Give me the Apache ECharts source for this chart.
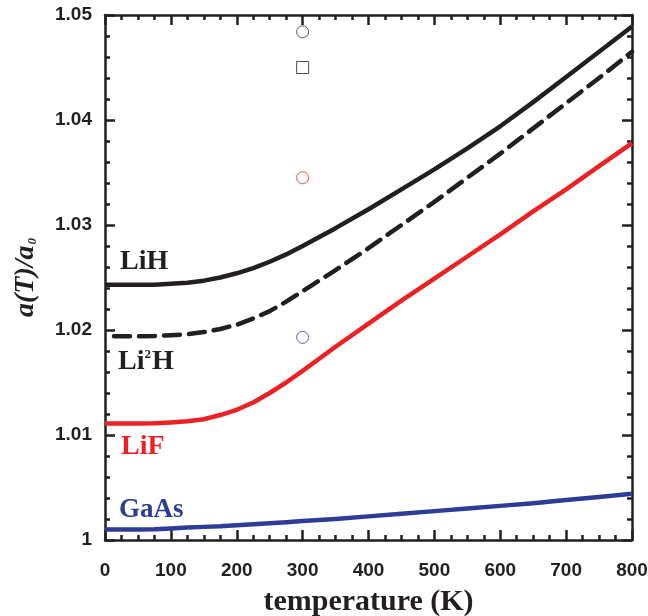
<!DOCTYPE html>
<html>
<head>
<meta charset="utf-8">
<script src="https://cdn.jsdelivr.net/npm/echarts@6/dist/echarts.min.js"></script>
<style>html,body{margin:0;padding:0;background:#fff;}#c{width:648px;height:616px;}</style>
</head>
<body>
<div id="c"></div>
<script>
// ---- data ----
const temps = [0, 25, 50, 75, 100, 125, 150, 175, 200, 225, 250, 275, 300, 350, 400, 450, 500, 550, 600, 650, 700, 750, 800];
const lih   = [1.0243, 1.0243, 1.0243, 1.02432, 1.0244, 1.0245, 1.0247, 1.0250, 1.0254, 1.0259, 1.0265, 1.0272, 1.0280, 1.0297, 1.0315, 1.0334, 1.0353, 1.0373, 1.0394, 1.0417, 1.0441, 1.0465, 1.0489];
const li2h  = [1.0194, 1.0194, 1.0194, 1.01943, 1.0195, 1.0196, 1.0198, 1.0201, 1.0205, 1.0211, 1.0218, 1.0227, 1.0237, 1.0257, 1.0278, 1.0300, 1.0322, 1.0345, 1.0368, 1.0392, 1.0416, 1.0440, 1.0465];
const lif   = [1.0111, 1.0111, 1.0111, 1.01113, 1.0112, 1.0113, 1.0115, 1.0119, 1.0124, 1.0131, 1.0140, 1.0150, 1.0161, 1.0184, 1.0206, 1.0228, 1.0249, 1.0270, 1.0291, 1.0313, 1.0334, 1.0356, 1.0378];
const gaas  = [1.0010, 1.0010, 1.0010, 1.00103, 1.0011, 1.0012, 1.00125, 1.0013, 1.0014, 1.0015, 1.0016, 1.0017, 1.0018, 1.0020, 1.00225, 1.0025, 1.00275, 1.0030, 1.00325, 1.0035, 1.0038, 1.0041, 1.0044];
// measured points at 300 K
const ptBlackCircle = [[300, 1.0484]];
const ptBlackSquare = [[300, 1.0450]];
const ptRedCircle   = [[300, 1.0345]];
const ptBlueCircle  = [[300, 1.0193]];
const xTicks = {min: 0, max: 800, interval: 100};
const yTicks = {min: 1.0, max: 1.05, interval: 0.01};

const BLACK = '#231f20', RED = '#ed2024', BLUE = '#2e3b97';
const zip = (xs, ys) => xs.map((x, i) => [x, ys[i]]);
const SERIF = '"Liberation Serif", "Times New Roman", serif';

const mkLine = () => ({onZero: false, lineStyle: {color: BLACK, width: 2.5}});
const mkTick = () => ({inside: true, length: 10, lineStyle: {color: BLACK, width: 2.5}});
const mkMinor = (n) => ({show: true, splitNumber: n, length: 5, lineStyle: {color: BLACK, width: 2.5}});
const mkLabel = () => ({color: '#231f20', fontFamily: '"Liberation Sans", Arial, sans-serif', fontWeight: 'bold', fontSize: 19});

const chart = echarts.init(document.getElementById('c'), null, {renderer: 'canvas'});
chart.setOption({
  animation: false,
  backgroundColor: '#fff',
  grid: {left: 105, right: 16, top: 15, bottom: 76, containLabel: false, outerBoundsMode: 'none'},
  xAxis: [
    {type: 'value', min: xTicks.min, max: xTicks.max, interval: xTicks.interval, position: 'bottom',
     axisLine: mkLine(), axisTick: mkTick(), minorTick: mkMinor(4), splitLine: {show: false},
     axisLabel: Object.assign({margin: 21}, mkLabel()),
     name: 'temperature (K)', nameLocation: 'middle', nameGap: 47,
     nameTextStyle: {fontFamily: SERIF, fontWeight: 'bold', fontSize: 30, color: BLACK}},
    {type: 'value', min: xTicks.min, max: xTicks.max, interval: xTicks.interval, position: 'top',
     axisLine: mkLine(), axisTick: mkTick(), minorTick: mkMinor(4), splitLine: {show: false}, axisLabel: {show: false}}
  ],
  yAxis: [
    {type: 'value', min: yTicks.min, max: yTicks.max, interval: yTicks.interval, position: 'left',
     axisLine: mkLine(), axisTick: mkTick(), minorTick: mkMinor(5), splitLine: {show: false},
     axisLabel: Object.assign({margin: 13, formatter: v => String(+v.toFixed(2))}, mkLabel()),
     name: '{i|a(T)/a}{s|0}', nameLocation: 'middle', nameGap: 65, nameRotate: 90,
     nameTextStyle: {rich: {
       i: {fontFamily: SERIF, fontStyle: 'italic', fontWeight: 'bold', fontSize: 28, color: BLACK},
       s: {fontFamily: SERIF, fontStyle: 'italic', fontWeight: 'bold', fontSize: 13, color: BLACK, padding: [14, 0, 0, 1]}
     }}},
    {type: 'value', min: yTicks.min, max: yTicks.max, interval: yTicks.interval, position: 'right',
     axisLine: mkLine(), axisTick: mkTick(), minorTick: mkMinor(5), splitLine: {show: false}, axisLabel: {show: false}}
  ],
  series: [
    {type: 'line', data: zip(temps, gaas), smooth: false, symbol: 'none', lineStyle: {color: BLUE, width: 4.5, join: 'round'}, z: 3},
    {type: 'line', data: zip(temps, lif), smooth: false, symbol: 'none', lineStyle: {color: RED, width: 4.5, join: 'round'}, z: 3},
    {type: 'line', data: zip(temps, li2h), smooth: false, symbol: 'none', lineStyle: {color: BLACK, width: 4.5, type: [16, 9], dashOffset: 16, cap: 'round', join: 'round'}, z: 3},
    {type: 'line', data: zip(temps, lih), smooth: false, symbol: 'none', lineStyle: {color: BLACK, width: 4.5, join: 'round'}, z: 3},
    {type: 'scatter', data: ptBlackCircle, symbol: 'circle', symbolSize: 12, itemStyle: {color: '#fff', borderColor: '#333', borderWidth: 1}, z: 4},
    {type: 'scatter', data: ptBlackSquare, symbol: 'rect', symbolSize: 12, itemStyle: {color: '#fff', borderColor: '#222', borderWidth: 1}, z: 4},
    {type: 'scatter', data: ptRedCircle, symbol: 'circle', symbolSize: 12, itemStyle: {color: '#fff', borderColor: RED, borderWidth: 1}, z: 4},
    {type: 'scatter', data: ptBlueCircle, symbol: 'circle', symbolSize: 12, itemStyle: {color: '#fff', borderColor: BLUE, borderWidth: 1}, z: 4}
  ],
  graphic: [
    {type: 'text', left: 120, top: 248, style: {text: 'LiH', fill: BLACK, fontFamily: SERIF, fontWeight: 'bold', fontSize: 28}},
    {type: 'text', left: 118, top: 348, style: {text: '{a|Li}{b|2}{a|H}', rich: {
      a: {fill: BLACK, fontFamily: SERIF, fontWeight: 'bold', fontSize: 28},
      b: {fill: BLACK, fontFamily: SERIF, fontWeight: 'bold', fontSize: 13, padding: [0, 1, 14, 0]}}}},
    {type: 'text', left: 121, top: 433, style: {text: 'LiF', fill: RED, fontFamily: SERIF, fontWeight: 'bold', fontSize: 28}},
    {type: 'text', left: 119, top: 497, style: {text: 'GaAs', fill: BLUE, fontFamily: SERIF, fontWeight: 'bold', fontSize: 27}}
  ]
});
</script>
</body>
</html>
